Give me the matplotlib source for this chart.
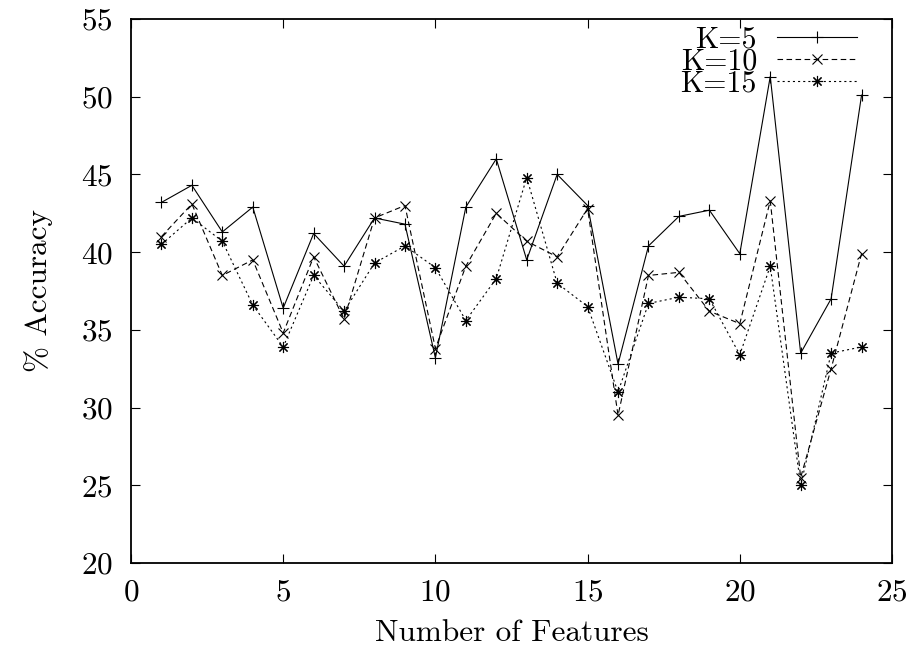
import matplotlib
matplotlib.use("Agg")
import matplotlib.pyplot as plt
from matplotlib.lines import Line2D

# ---- data ----
features = list(range(1, 25))
acc_k5 = [43.2, 44.3, 41.3, 42.9, 36.4, 41.2, 39.1, 42.2, 41.8, 33.2, 42.9, 46.0,
          39.5, 45.0, 43.0, 32.8, 40.4, 42.3, 42.7, 39.9, 51.3, 33.5, 37.0, 50.1]
acc_k10 = [41.0, 43.1, 38.5, 39.5, 34.8, 39.7, 35.7, 42.2, 43.0, 33.8, 39.1, 42.5,
           40.7, 39.7, 42.8, 29.5, 38.5, 38.7, 36.2, 35.4, 43.3, 25.5, 32.5, 39.9]
acc_k15 = [40.5, 42.2, 40.7, 36.6, 33.9, 38.5, 36.2, 39.3, 40.4, 39.0, 35.6, 38.3,
           44.8, 38.0, 36.5, 31.0, 36.7, 37.1, 37.0, 33.4, 39.1, 25.0, 33.5, 33.9]
series_labels = ["K=5", "K=10", "K=15"]
x_ticks = [0, 5, 10, 15, 20, 25]
y_ticks = [20, 25, 30, 35, 40, 45, 50, 55]

plt.rcParams['font.family'] = ['cmr10', 'DejaVu Serif']
plt.rcParams['axes.formatter.use_mathtext'] = True
plt.rcParams['lines.scale_dashes'] = False
FS = 22.5
FS_KEY = 21.5

fig = plt.figure(figsize=(9.14, 6.5), dpi=100)
ax = fig.add_axes([131/914, 1 - 563/650, (892-131)/914, (563-19)/650])

lw = 0.8
styles = [
    dict(ls='-', marker='+', ms=8),
    dict(dashes=[4, 2.5], marker='x', ms=6.5),
    dict(dashes=[1.5, 2.2], marker=(8, 2, 0), ms=8),
]
all_series = [acc_k5, acc_k10, acc_k15]
for vals, st, lab in zip(all_series, styles, series_labels):
    ax.plot(features, vals, color='black', lw=lw, mew=0.8, label=lab, **st)

ax.set_xlim(0, 25)
ax.set_ylim(20, 55)
ax.set_xticks(x_ticks)
ax.set_yticks(y_ticks)
ax.tick_params(direction='in', length=6.5, width=0.8, top=True, right=True,
               labelsize=FS)
ax.tick_params(axis='y', pad=13)
ax.tick_params(axis='x', pad=11)
for s in ax.spines.values():
    s.set_linewidth(1.3)

ax.set_xlabel('Number of Features', fontsize=FS, labelpad=9)
ax.set_ylabel('% Accuracy', fontsize=FS, labelpad=20)

# gnuplot-style key (text right-aligned, sample to the right)
row_y = [0.967, 0.926, 0.886]
text_x = 0.8226
line_x0, line_x1 = 0.849, 0.954
cap_half = 0.683 * FS_KEY / 2
for yy, st, lab in zip(row_y, styles, series_labels):
    ax.annotate(lab, xy=(text_x, yy), xycoords='axes fraction',
                xytext=(0, -cap_half), textcoords='offset points',
                ha='right', va='baseline', fontsize=FS_KEY)
    ln = Line2D([line_x0, (line_x0 + line_x1) / 2, line_x1], [yy, yy, yy],
                transform=ax.transAxes, color='black', lw=lw, mew=0.8,
                markevery=[1], **st)
    ax.add_line(ln)

fig.savefig('out.png', dpi=100)
